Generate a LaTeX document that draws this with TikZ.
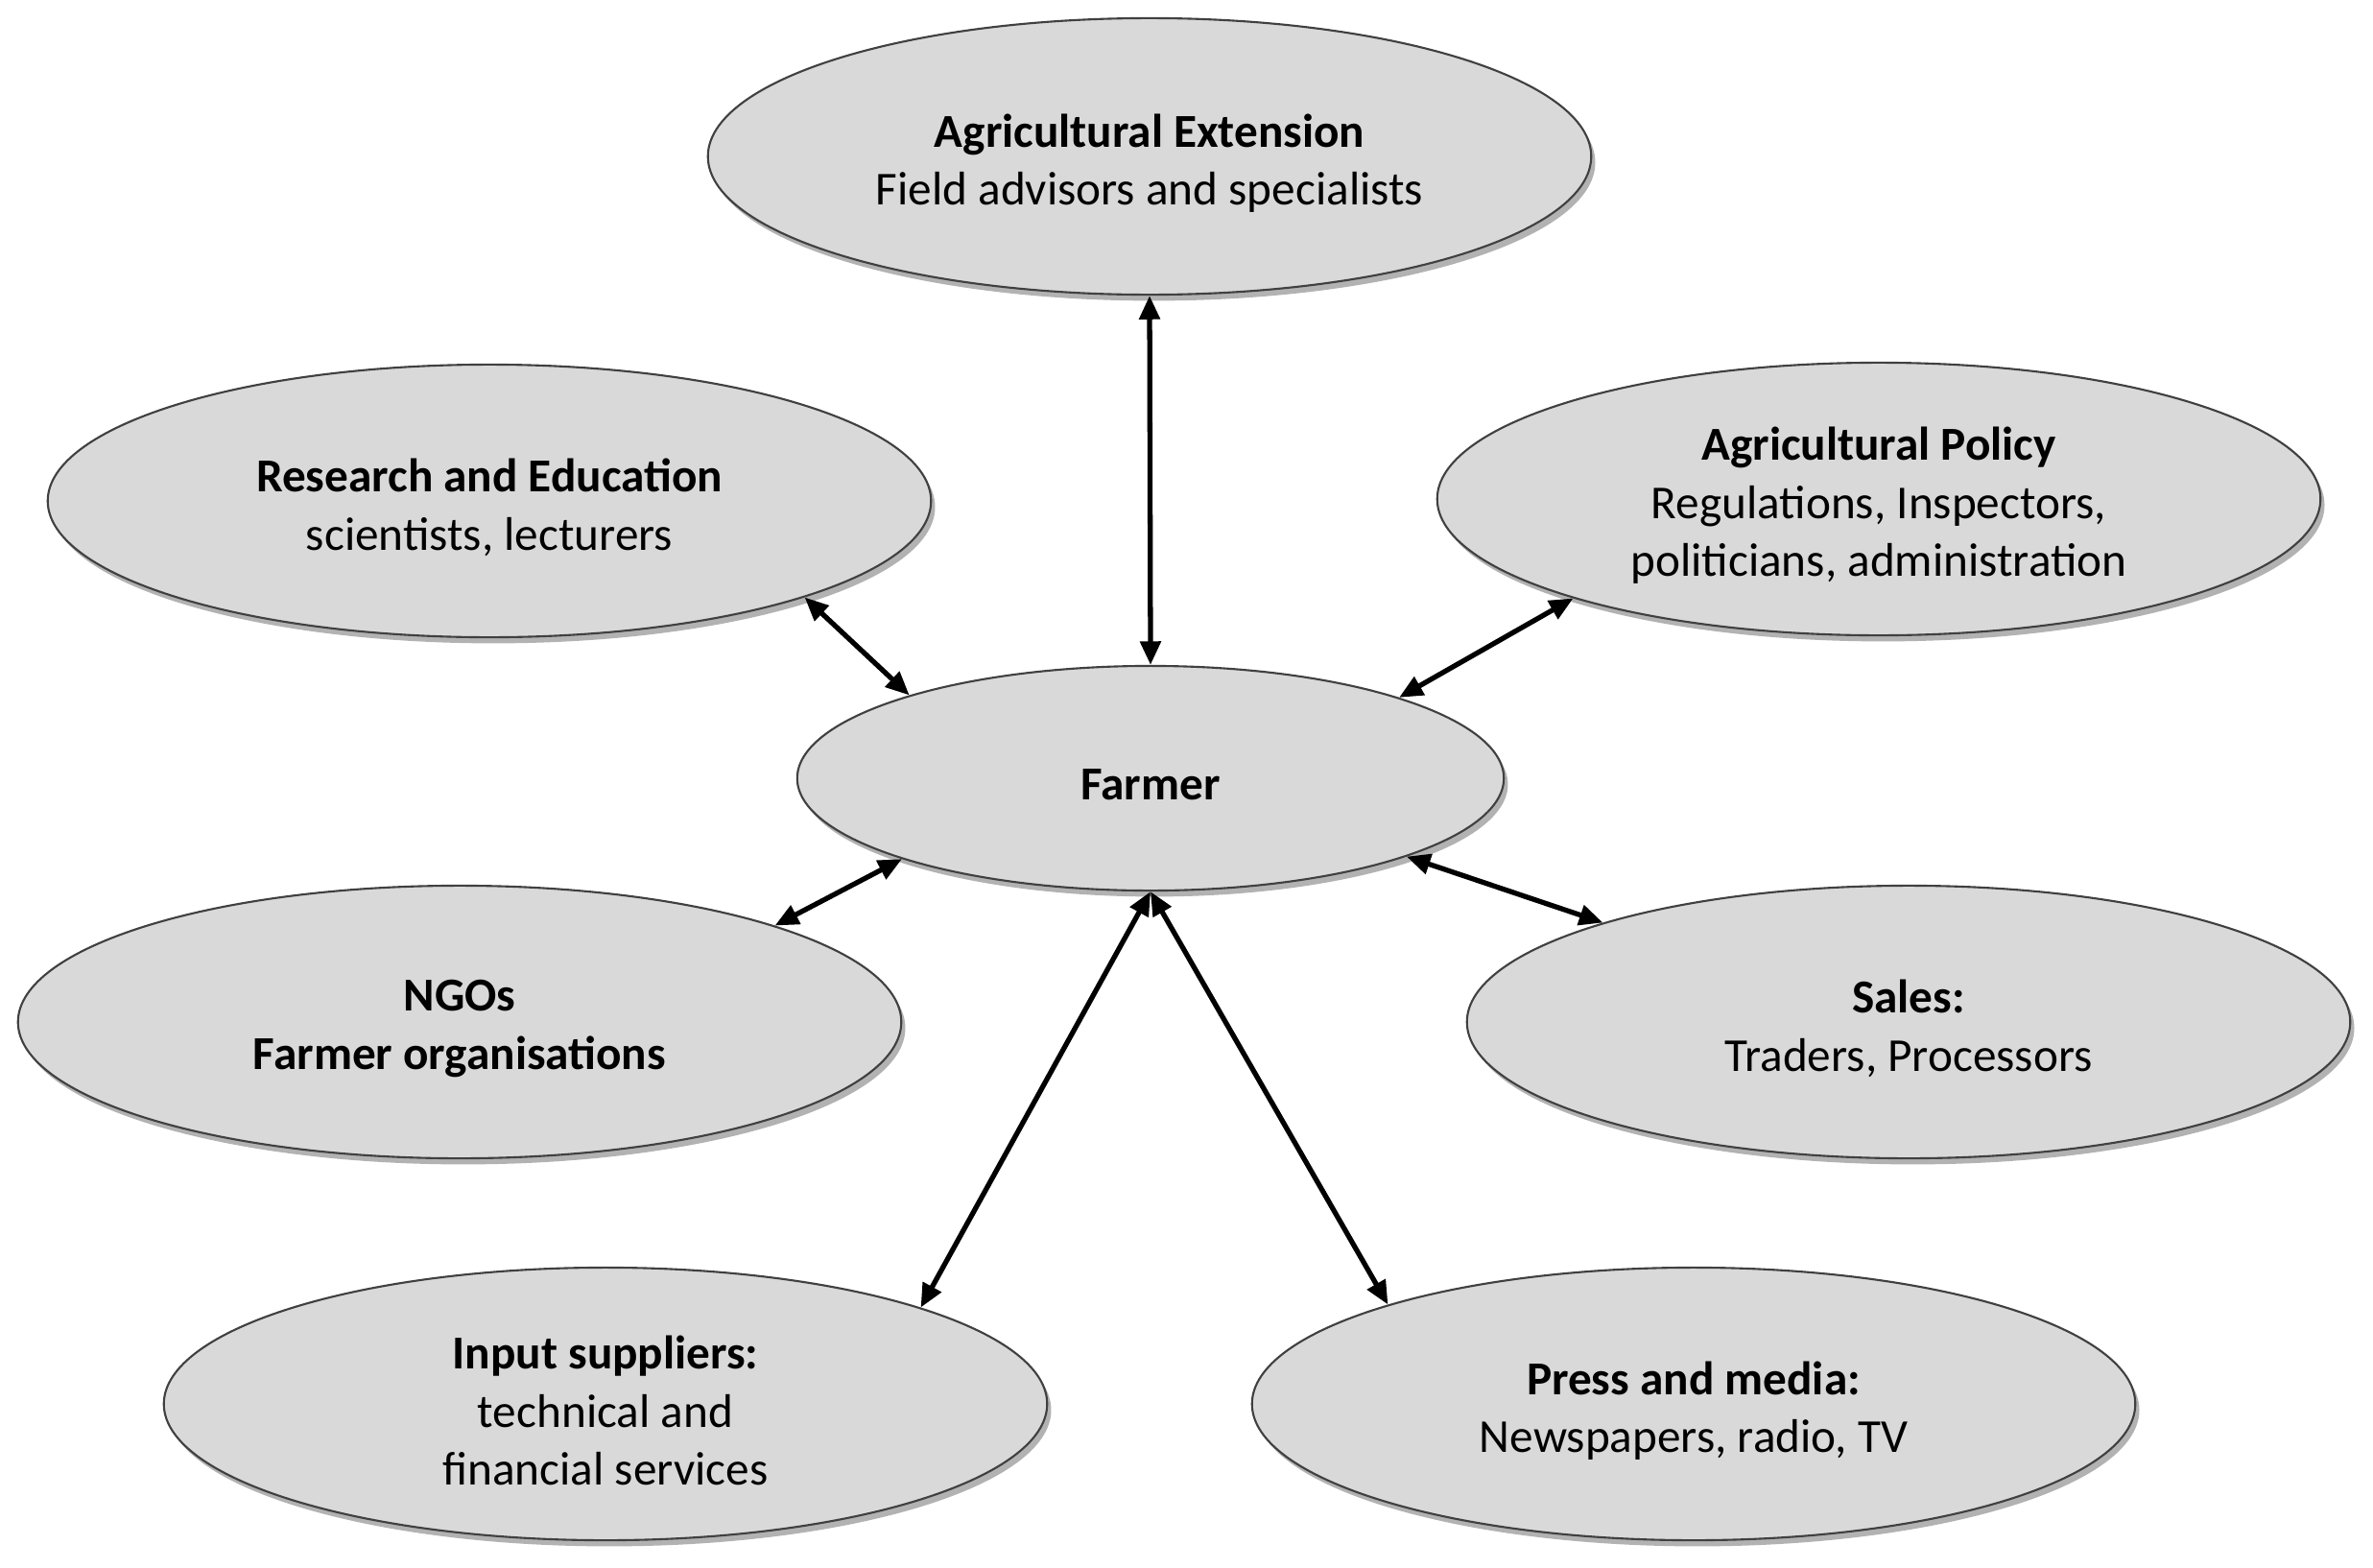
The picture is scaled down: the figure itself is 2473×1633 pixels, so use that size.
\documentclass[tikz,border=0pt]{standalone}
\usepackage{fontspec}
\setmainfont{Carlito}
\usetikzlibrary{arrows.meta,shapes.geometric,shadows}
\definecolor{ellfill}{HTML}{D9D9D9}
\definecolor{ellline}{HTML}{404040}
\begin{document}
\begin{tikzpicture}[x=0.01cm,y=-0.01cm,
  bub/.style={ellipse,draw=ellline,line width=0.6pt,fill=ellfill,
    minimum width=9.2cm,minimum height=2.84cm,inner sep=0pt,
    drop shadow={shadow xshift=1.2pt,shadow yshift=-1.8pt,opacity=0.3,fill=black},
    label={[align=center,font=\fontsize{14}{17.2}\selectfont,yshift=-0.07cm]center:#1}},
  link/.style={line width=1.5pt,{Triangle[length=7pt,width=6pt]}-{Triangle[length=7pt,width=6pt]}}]
\useasboundingbox (0,0) rectangle (2473,1633);
\node[bub={\textbf{Agricultural Extension}\\Field advisors and specialists},minimum height=2.88cm] (ext) at (1198,163) {};
\node[bub={\textbf{Research and Education}\\scientists, lecturers}] (res) at (510,522) {};
\node[bub={\textbf{Agricultural Policy}\\Regulations, Inspectors,\\politicians, administration}] (pol) at (1958,520) {};
\node[bub={\textbf{Farmer}},minimum width=7.36cm,minimum height=2.34cm] (farmer) at (1199,811) {};
\node[bub={\textbf{NGOs}\\\textbf{Farmer organisations}}] (ngo) at (479,1065) {};
\node[bub={\textbf{Sales:}\\Traders, Processors}] (sales) at (1989,1065) {};
\node[bub={\textbf{Input suppliers:}\\technical and\\financial services}] (input) at (631,1463) {};
\node[bub={\textbf{Press and media:}\\Newspapers, radio, TV}] (press) at (1765,1463) {};
\draw[link] (ext.south) -- (farmer.north);
\draw[link] (res.-17) -- (farmer.161);
\draw[link] (pol.-162.4) -- (farmer.18);
\draw[link] (ngo.17.8) -- (farmer.-162);
\draw[link] (sales.162.3) -- (farmer.-17.5);
\draw[link] (input.17.6) -- (farmer.south);
\draw[link] (press.162.4) -- (farmer.south);
\end{tikzpicture}
\end{document}
